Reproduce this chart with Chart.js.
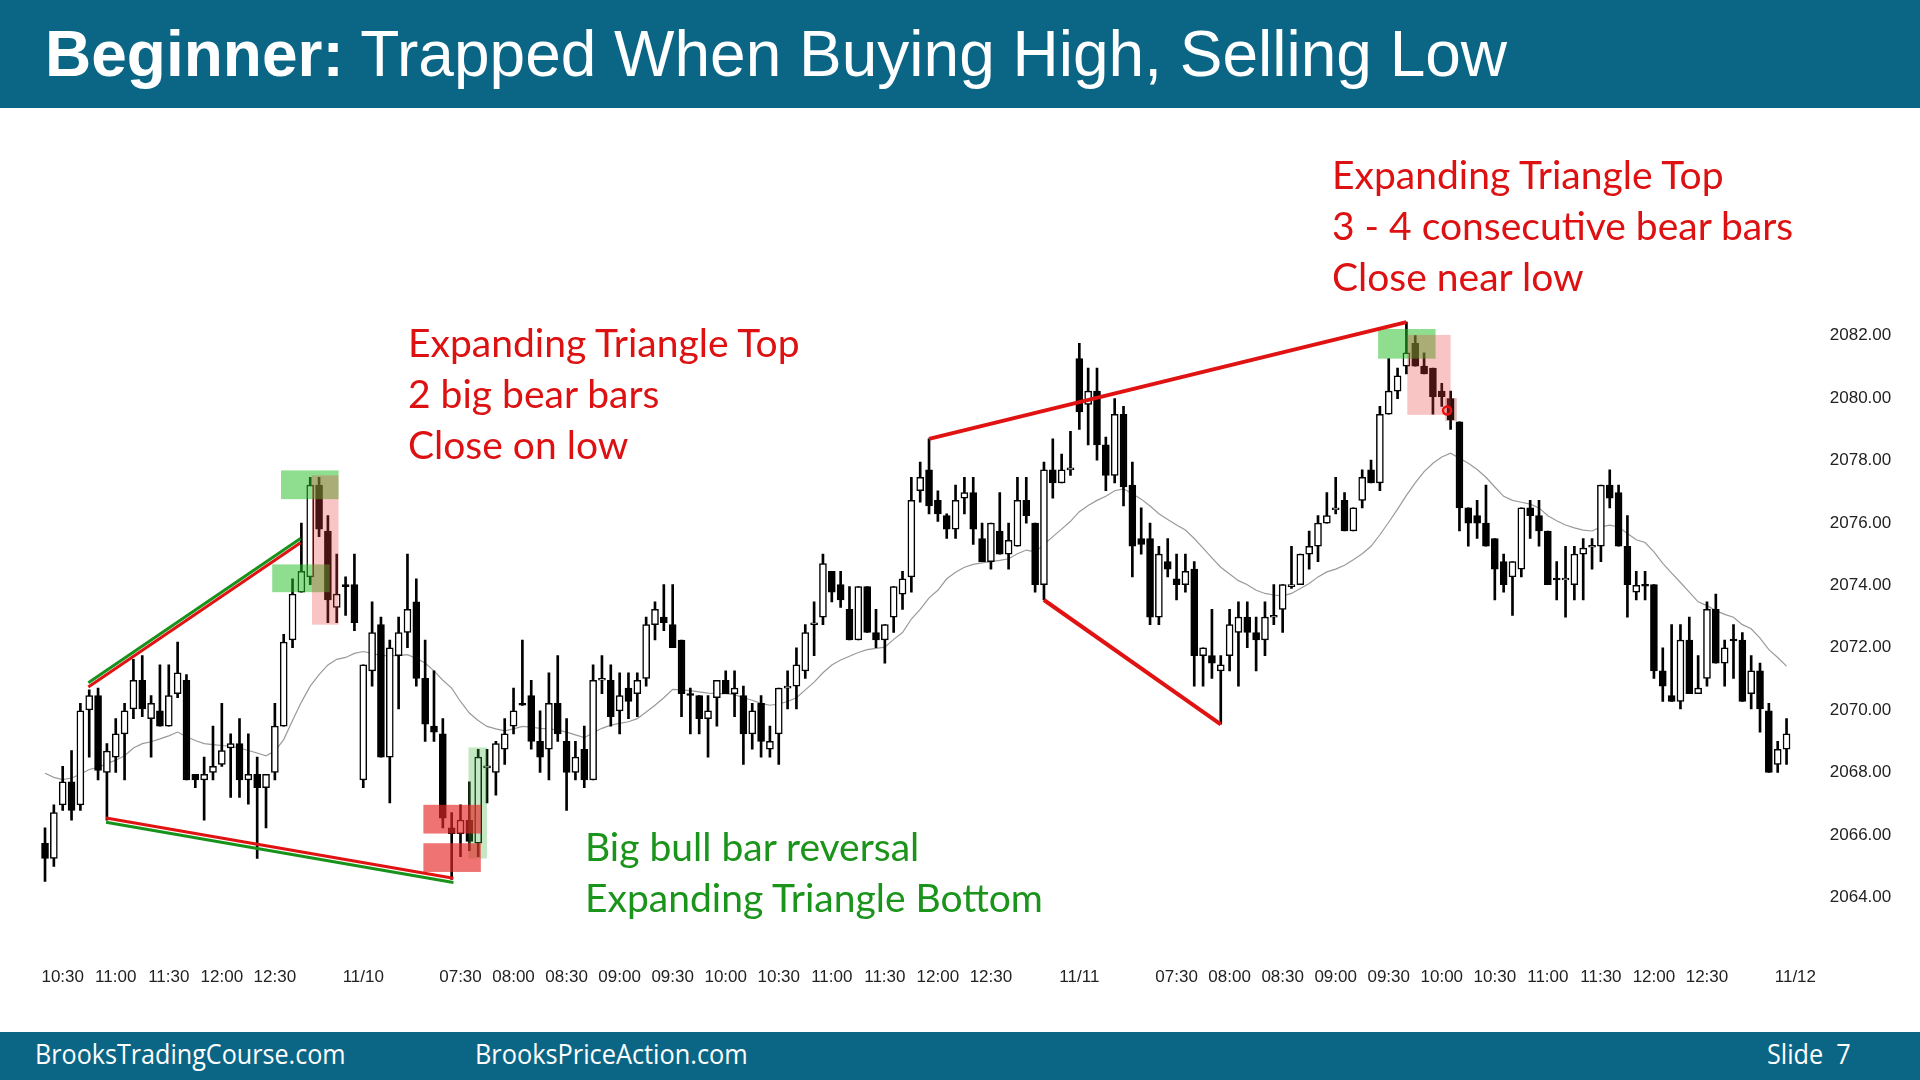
<!DOCTYPE html>
<html>
<head>
<meta charset="utf-8">
<title>Beginner: Trapped When Buying High, Selling Low</title>
<script src="https://cdn.jsdelivr.net/npm/chart.js@4.4.1/dist/chart.umd.min.js"></script>
<style>
    html, body { margin: 0; padding: 0; width: 1920px; height: 1080px; overflow: hidden; background: #fff; }
    #wrap { position: relative; width: 1920px; height: 1080px; }
    #chart { position: absolute; left: 0; top: 0; }
    .band { position: absolute; left: 0; width: 1920px; background: #0b6686; color: #fff; }
    #header { top: 0; height: 108px; font-family: 'Liberation Sans', Arial, sans-serif; font-size: 64px; line-height: 108px; }
    #header div { position: absolute; left: 45px; top: 0; white-space: nowrap; }
    #footer { top: 1032px; height: 48px; font-family: 'Open Sans', sans-serif; font-size: 27px; line-height: 44px; }
    #footer span { position: absolute; top: 0; white-space: nowrap; transform-origin: left center; display: inline-block; }
    .note { position: absolute; font-family: Lato, 'Open Sans', sans-serif; font-size: 39px; line-height: 51px; white-space: nowrap; }
    .red { color: #dd1111; }
    .green { color: #1b941b; }
</style>
</head>
<body>
<div id="wrap">
    <canvas id="chart" width="1920" height="1080"></canvas>
    <div id="header" class="band"><div><b>Beginner:</b> Trapped When Buying High, Selling Low</div></div>
    <div class="note red" style="left:408px; top:317px;">Expanding Triangle Top<br>2 big bear bars<br>Close on low</div>
    <div class="note red" style="left:1332px; top:149px;">Expanding Triangle Top<br>3 - 4 consecutive bear bars<br>Close near low</div>
    <div class="note green" style="left:585px; top:821px;">Big bull bar reversal<br>Expanding Triangle Bottom</div>
    <div id="footer" class="band">
        <span style="left:35px;" data-w="311">BrooksTradingCourse.com</span>
        <span style="left:475px;" data-w="273">BrooksPriceAction.com</span>
        <span style="left:1767px;" data-w="84">Slide&nbsp; 7</span>
    </div>
</div>
<script>
// Sessions: date, first bar time (minutes), number of 5 min bars
const sessions = [['11/9', 620, 36], ['11/10', 395, 81], ['11/11', 395, 81], ['11/12', 395, 1]];

const openPrices = [
    2065.74, 2065.25, 2066.97, 2067.71, 2066.97, 2070.01, 2070.47, 2068.01, 2068.50, 2069.24,
    2070.04, 2070.96, 2069.73, 2069.98, 2069.49, 2070.53, 2070.96, 2067.95, 2067.77, 2068.01,
    2068.26, 2068.79, 2068.93, 2067.77, 2067.95, 2067.52, 2068.01, 2069.49, 2072.25, 2073.78,
    2074.27, 2077.21, 2075.74, 2073.29, 2074.02, 2074.02, 2067.77, 2071.26, 2072.74, 2068.50,
    2071.75, 2072.49, 2073.47, 2071.02, 2069.49, 2069.24, 2066.23, 2066.05, 2066.48, 2065.74,
    2068.15, 2068.01, 2068.75, 2069.49, 2070.22, 2070.47, 2069.00, 2068.75, 2070.22, 2069.00,
    2068.01, 2068.75, 2067.77, 2070.96, 2070.96, 2069.98, 2070.71, 2070.53, 2071.02, 2072.74,
    2072.98, 2072.74, 2072.25, 2070.53, 2070.47, 2069.73, 2070.40, 2070.96, 2070.53, 2070.47,
    2069.24, 2070.22, 2068.75, 2069.24, 2070.71, 2070.77, 2071.26, 2072.74, 2072.98, 2074.45,
    2074.02, 2073.23, 2072.25, 2073.96, 2072.49, 2072.25, 2072.98, 2073.72, 2074.27, 2077.03,
    2077.70, 2076.72, 2076.23, 2075.80, 2076.79, 2076.97, 2075.50, 2074.76, 2075.74, 2075.00,
    2075.25, 2076.72, 2075.99, 2074.02, 2077.70, 2077.28, 2077.70, 2081.26, 2079.79, 2080.22,
    2078.50, 2077.52, 2079.48, 2077.21, 2075.50, 2075.50, 2072.98, 2074.76, 2074.21, 2074.02,
    2074.52, 2071.75, 2071.75, 2071.26, 2071.75, 2072.49, 2072.98, 2072.49, 2072.25, 2072.98,
    2073.23, 2073.96, 2074.02, 2075.00, 2075.25, 2075.99, 2076.42, 2076.72, 2075.74, 2076.72,
    2077.70, 2077.28, 2079.48, 2080.22, 2081.02, 2081.75, 2081.02, 2080.96, 2080.22, 2079.98,
    2079.24, 2076.48, 2076.23, 2075.99, 2075.50, 2074.76, 2074.27, 2074.52, 2076.48, 2076.23,
    2075.74, 2074.23, 2074.17, 2074.02, 2075.00, 2075.22, 2075.25, 2077.21, 2076.97, 2075.25,
    2073.78, 2074.03, 2074.02, 2071.26, 2070.47, 2070.28, 2072.25, 2070.53, 2071.02, 2073.23,
    2071.51, 2072.28, 2072.25, 2070.53, 2071.26, 2069.98, 2068.26, 2068.75
];
const highPrices = [
    2066.23, 2066.97, 2068.20, 2068.71, 2070.22, 2070.65, 2070.71, 2068.93, 2069.73, 2070.22,
    2071.63, 2071.75, 2070.47, 2071.45, 2071.45, 2072.18, 2071.14, 2067.95, 2068.50, 2069.49,
    2070.22, 2069.24, 2069.73, 2069.24, 2068.50, 2067.95, 2070.22, 2072.43, 2074.21, 2075.99,
    2077.46, 2077.46, 2076.23, 2075.00, 2074.27, 2075.00, 2071.45, 2073.47, 2072.98, 2072.25,
    2072.98, 2075.00, 2074.21, 2072.25, 2071.26, 2069.73, 2066.72, 2066.97, 2067.71, 2068.75,
    2068.75, 2069.00, 2069.73, 2070.71, 2072.25, 2070.96, 2069.98, 2071.20, 2071.75, 2069.73,
    2069.00, 2069.49, 2071.45, 2071.75, 2071.45, 2071.20, 2071.20, 2071.20, 2072.98, 2073.47,
    2074.02, 2074.02, 2072.25, 2070.71, 2070.47, 2070.47, 2070.96, 2071.26, 2071.26, 2070.77,
    2070.22, 2070.47, 2069.49, 2070.71, 2071.26, 2072.00, 2072.74, 2073.47, 2075.00, 2074.45,
    2074.45, 2073.96, 2073.96, 2073.96, 2073.23, 2072.74, 2073.96, 2074.45, 2077.46, 2077.95,
    2078.69, 2077.03, 2076.29, 2077.21, 2077.46, 2077.46, 2075.99, 2075.99, 2076.97, 2075.99,
    2077.46, 2077.46, 2075.99, 2077.95, 2078.69, 2078.20, 2078.93, 2081.75, 2080.96, 2080.96,
    2078.75, 2079.98, 2079.73, 2077.95, 2076.48, 2075.99, 2075.25, 2075.50, 2075.00, 2075.00,
    2074.76, 2072.00, 2073.23, 2071.75, 2073.23, 2073.47, 2073.47, 2072.98, 2073.47, 2074.02,
    2074.02, 2075.25, 2075.00, 2075.74, 2076.23, 2076.97, 2077.46, 2076.97, 2076.48, 2077.70,
    2078.01, 2079.73, 2081.26, 2080.96, 2082.43, 2082.00, 2081.45, 2080.96, 2080.47, 2080.22,
    2079.24, 2076.48, 2076.72, 2077.21, 2075.50, 2075.00, 2074.76, 2076.48, 2076.72, 2076.72,
    2075.74, 2074.76, 2075.25, 2075.25, 2075.50, 2075.50, 2077.21, 2077.70, 2077.21, 2076.23,
    2074.45, 2074.45, 2074.02, 2072.00, 2072.74, 2072.74, 2072.98, 2071.75, 2073.47, 2073.72,
    2072.25, 2072.74, 2072.49, 2071.75, 2071.51, 2070.22, 2069.00, 2069.73
];
const lowPrices = [
    2064.52, 2065.00, 2066.79, 2066.48, 2066.79, 2068.50, 2067.77, 2066.48, 2068.01, 2067.77,
    2069.73, 2069.79, 2068.50, 2069.49, 2069.49, 2070.40, 2067.77, 2067.52, 2066.48, 2067.77,
    2068.20, 2067.21, 2067.21, 2066.99, 2065.25, 2066.23, 2067.77, 2069.49, 2072.00, 2073.78,
    2074.02, 2075.56, 2072.80, 2072.80, 2073.04, 2072.55, 2067.52, 2070.77, 2068.50, 2067.03,
    2070.04, 2072.00, 2070.77, 2069.00, 2069.00, 2066.23, 2064.58, 2065.31, 2065.50, 2065.31,
    2067.03, 2067.28, 2068.26, 2069.24, 2070.15, 2068.75, 2068.01, 2067.77, 2069.00, 2066.79,
    2067.77, 2067.52, 2067.77, 2070.53, 2069.49, 2069.24, 2069.73, 2069.79, 2070.77, 2072.25,
    2072.55, 2072.00, 2069.79, 2069.24, 2069.24, 2068.50, 2069.49, 2070.53, 2069.79, 2068.26,
    2068.75, 2068.50, 2068.50, 2068.26, 2070.04, 2070.04, 2071.02, 2071.75, 2072.74, 2073.47,
    2073.29, 2072.25, 2072.25, 2072.49, 2072.00, 2071.51, 2072.49, 2073.23, 2073.78, 2076.66,
    2076.29, 2076.05, 2075.50, 2075.50, 2076.29, 2075.31, 2074.76, 2074.52, 2075.00, 2074.52,
    2075.25, 2075.99, 2073.78, 2073.53, 2076.79, 2077.28, 2077.52, 2078.99, 2078.50, 2078.01,
    2077.03, 2077.28, 2076.54, 2074.27, 2075.00, 2072.74, 2072.74, 2074.27, 2073.53, 2073.78,
    2070.77, 2070.77, 2071.02, 2069.55, 2071.26, 2070.77, 2072.00, 2071.26, 2071.75, 2072.74,
    2072.49, 2073.90, 2074.02, 2074.52, 2074.76, 2075.99, 2076.29, 2075.74, 2075.74, 2076.48,
    2077.28, 2077.03, 2079.48, 2079.98, 2080.77, 2081.02, 2080.77, 2079.48, 2079.73, 2078.99,
    2075.74, 2075.25, 2075.50, 2075.25, 2073.53, 2073.78, 2073.04, 2074.27, 2075.50, 2075.25,
    2074.02, 2073.53, 2072.98, 2073.53, 2073.53, 2074.52, 2074.76, 2076.48, 2075.25, 2072.98,
    2073.53, 2073.53, 2071.02, 2070.28, 2070.28, 2070.04, 2070.53, 2070.53, 2070.77, 2071.51,
    2070.77, 2071.02, 2070.28, 2070.04, 2069.30, 2068.01, 2068.01, 2068.26
];
const closePrices = [
    2065.25, 2066.72, 2067.71, 2066.79, 2069.98, 2070.47, 2068.07, 2068.69, 2069.24, 2069.98,
    2070.96, 2070.04, 2070.22, 2069.49, 2070.47, 2071.20, 2067.77, 2067.77, 2067.95, 2068.20,
    2068.71, 2068.93, 2067.77, 2067.95, 2067.52, 2067.95, 2069.49, 2072.18, 2073.72, 2074.45,
    2077.21, 2075.80, 2073.53, 2073.72, 2073.96, 2072.80, 2071.45, 2072.49, 2068.50, 2072.00,
    2072.49, 2073.23, 2071.02, 2069.55, 2069.30, 2066.54, 2066.05, 2066.48, 2065.80, 2068.50,
    2068.22, 2068.93, 2069.24, 2069.98, 2070.16, 2069.00, 2068.50, 2070.22, 2069.24, 2068.01,
    2068.50, 2067.77, 2070.96, 2071.02, 2069.79, 2070.47, 2070.28, 2070.96, 2072.74, 2073.23,
    2072.80, 2072.00, 2070.53, 2070.47, 2069.73, 2069.98, 2070.96, 2070.53, 2070.71, 2069.24,
    2069.98, 2069.00, 2069.00, 2070.71, 2070.77, 2071.45, 2072.49, 2072.80, 2074.70, 2073.78,
    2073.53, 2072.25, 2073.96, 2072.49, 2072.25, 2072.74, 2073.96, 2074.21, 2076.72, 2077.46,
    2076.54, 2076.29, 2075.80, 2076.72, 2076.97, 2075.80, 2074.76, 2075.99, 2075.00, 2075.44,
    2076.72, 2076.23, 2074.02, 2077.70, 2077.28, 2077.70, 2077.76, 2079.55, 2080.22, 2078.50,
    2077.52, 2079.48, 2077.15, 2075.25, 2075.31, 2072.98, 2075.00, 2074.52, 2074.02, 2074.45,
    2071.75, 2072.00, 2071.51, 2071.45, 2072.74, 2072.98, 2072.49, 2072.25, 2072.98, 2073.04,
    2074.02, 2074.02, 2075.00, 2075.25, 2075.99, 2076.23, 2076.48, 2075.74, 2076.48, 2077.46,
    2077.28, 2079.48, 2080.22, 2080.71, 2081.45, 2081.02, 2080.77, 2080.04, 2080.04, 2079.30,
    2076.48, 2075.99, 2075.99, 2075.25, 2074.52, 2074.02, 2074.76, 2076.48, 2076.23, 2075.74,
    2074.02, 2074.17, 2074.23, 2075.00, 2075.19, 2075.28, 2077.21, 2076.79, 2075.25, 2074.02,
    2074.00, 2073.97, 2071.26, 2070.77, 2070.28, 2072.25, 2070.53, 2070.71, 2073.23, 2071.51,
    2072.00, 2072.22, 2070.28, 2071.26, 2070.04, 2068.01, 2068.75, 2069.24
];
// 20 bar moving average
const emaValues = [
    2067.98, 2067.85, 2067.78, 2067.83, 2067.95, 2068.10, 2068.17, 2068.29, 2068.40, 2068.54,
    2068.79, 2068.93, 2068.99, 2069.08, 2069.18, 2069.30, 2069.15, 2069.03, 2068.93, 2068.90,
    2068.87, 2068.85, 2068.79, 2068.71, 2068.63, 2068.54, 2068.69, 2069.06, 2069.67, 2070.26,
    2070.77, 2071.14, 2071.45, 2071.63, 2071.69, 2071.82, 2071.88, 2071.82, 2071.75, 2071.75,
    2071.75, 2071.78, 2071.66, 2071.51, 2071.26, 2070.96, 2070.71, 2070.28, 2069.91, 2069.67,
    2069.48, 2069.40, 2069.34, 2069.40, 2069.48, 2069.46, 2069.42, 2069.40, 2069.36, 2069.30,
    2069.21, 2069.12, 2069.28, 2069.42, 2069.52, 2069.58, 2069.63, 2069.73, 2069.94, 2070.16,
    2070.40, 2070.67, 2070.65, 2070.63, 2070.59, 2070.55, 2070.53, 2070.53, 2070.50, 2070.40,
    2070.32, 2070.22, 2070.16, 2070.20, 2070.28, 2070.40, 2070.65, 2070.90, 2071.20, 2071.45,
    2071.61, 2071.73, 2071.85, 2071.94, 2071.98, 2072.02, 2072.27, 2072.49, 2072.92, 2073.23,
    2073.60, 2073.84, 2074.21, 2074.42, 2074.58, 2074.67, 2074.72, 2074.76, 2074.80, 2074.85,
    2075.01, 2075.13, 2075.07, 2075.31, 2075.56, 2075.80, 2076.05, 2076.36, 2076.56, 2076.72,
    2076.85, 2077.03, 2077.09, 2076.93, 2076.76, 2076.54, 2076.29, 2076.11, 2075.93, 2075.77,
    2075.50, 2075.19, 2074.88, 2074.58, 2074.36, 2074.15, 2074.02, 2073.84, 2073.74, 2073.69,
    2073.66, 2073.74, 2073.90, 2074.06, 2074.27, 2074.43, 2074.52, 2074.64, 2074.82, 2075.01,
    2075.25, 2075.62, 2076.02, 2076.44, 2076.88, 2077.28, 2077.64, 2077.91, 2078.11, 2078.23,
    2078.07, 2077.91, 2077.71, 2077.46, 2077.15, 2076.85, 2076.72, 2076.66, 2076.60, 2076.48,
    2076.23, 2076.07, 2075.93, 2075.84, 2075.77, 2075.74, 2075.87, 2075.93, 2075.87, 2075.66,
    2075.46, 2075.37, 2075.07, 2074.70, 2074.39, 2074.09, 2073.78, 2073.47, 2073.35, 2073.19,
    2073.07, 2072.98, 2072.74, 2072.61, 2072.31, 2071.94, 2071.69, 2071.41
];

const tickBars = [2, 8, 14, 20, 26, 36, 47, 53, 59, 65, 71, 77, 83, 89, 95, 101, 107,
    117, 128, 134, 140, 146, 152, 158, 164, 170, 176, 182, 188, 198];
const tickTexts = ['10:30', '11:00', '11:30', '12:00', '12:30', '11/10',
    '07:30', '08:00', '08:30', '09:00', '09:30', '10:00', '10:30', '11:00', '11:30', '12:00', '12:30', '11/11',
    '07:30', '08:00', '08:30', '09:00', '09:30', '10:00', '10:30', '11:00', '11:30', '12:00', '12:30', '11/12'];
const priceTicks = [2064, 2066, 2068, 2070, 2072, 2074, 2076, 2078, 2080, 2082];

// Drawings on top of the bars: [bar from, price from, bar to, price to, colour, width]
const trendLines = [
    [4.9, 2070.88, 28.9, 2075.50, '#17921a', 3],
    [4.9, 2070.74, 28.9, 2075.36, '#e01212', 3],
    [6.9, 2066.55, 46.2, 2064.62, '#e01212', 3],
    [6.9, 2066.41, 46.2, 2064.48, '#17921a', 3],
    [100, 2078.69, 154, 2082.43, '#e01212', 4],
    [113, 2073.53, 133, 2069.55, '#e01212', 4]
];
// Shaded boxes: [bar left, bar right, price top, price bottom, colour]
const boxes = [
    [26.7, 33.2, 2077.68, 2076.76, 'rgba(40,190,40,0.52)'],
    [25.7, 32.2, 2074.67, 2073.78, 'rgba(40,190,40,0.52)'],
    [47.9, 50.0, 2068.81, 2065.25, 'rgba(60,180,60,0.3)'],
    [150.8, 157.3, 2082.21, 2081.26, 'rgba(40,190,40,0.52)'],
    [30.2, 33.2, 2077.52, 2072.74, 'rgba(235,60,60,0.3)'],
    [42.8, 49.3, 2066.97, 2066.05, 'rgba(232,40,40,0.65)'],
    [42.8, 49.3, 2065.74, 2064.82, 'rgba(232,40,40,0.65)'],
    [154.1, 159.0, 2082.02, 2079.46, 'rgba(235,60,60,0.3)'],
    [158.4, 159.7, 2080.00, 2079.26, 'rgba(150,40,40,0.3)']
];
const marker = [158.6, 2079.6];

// Build category labels from the sessions
const barLabels = [];
sessions.forEach(function(s) {
    for (let i = 0; i < s[2]; i++) {
        const t = s[1] + i * 5;
        const hh = String(Math.floor(t / 60)).padStart(2, '0');
        const mm = String(t % 60).padStart(2, '0');
        barLabels.push(s[0] + ' ' + hh + ':' + mm);
    }
});

const wickData = lowPrices.map((l, i) => [l, highPrices[i]]);
const bodyData = openPrices.map((o, i) => [o, closePrices[i]]);

const drawingsPlugin = {
    id: 'drawings',
    afterDatasetsDraw(chart) {
        const ctx = chart.ctx;
        const xs = chart.scales.x;
        const ys = chart.scales.y;
        ctx.save();
        boxes.forEach(function(b) {
            const x1 = xs.getPixelForValue(b[0]);
            const x2 = xs.getPixelForValue(b[1]);
            const y1 = ys.getPixelForValue(b[2]);
            const y2 = ys.getPixelForValue(b[3]);
            ctx.fillStyle = b[4];
            ctx.fillRect(x1, y1, x2 - x1, y2 - y1);
        });
        ctx.lineCap = 'butt';
        trendLines.forEach(function(l) {
            ctx.beginPath();
            ctx.moveTo(xs.getPixelForValue(l[0]), ys.getPixelForValue(l[1]));
            ctx.lineTo(xs.getPixelForValue(l[2]), ys.getPixelForValue(l[3]));
            ctx.strokeStyle = l[4];
            ctx.lineWidth = l[5];
            ctx.stroke();
        });
        ctx.beginPath();
        ctx.arc(xs.getPixelForValue(marker[0]), ys.getPixelForValue(marker[1]), 4, 0, Math.PI * 2);
        ctx.strokeStyle = '#ee1111';
        ctx.lineWidth = 2.5;
        ctx.stroke();
        ctx.restore();
    }
};

Chart.defaults.font.family = "'Liberation Sans', Arial, sans-serif";
Chart.defaults.color = '#222';

new Chart(document.getElementById('chart'), {
    type: 'bar',
    data: {
        labels: barLabels,
        datasets: [{
            label: 'Body',
            data: bodyData,
            grouped: false,
            barThickness: 7,
            borderWidth: 1.5,
            borderSkipped: false,
            borderColor: '#000',
            backgroundColor: ctx => {
                const i = ctx.dataIndex;
                return closePrices[i] >= openPrices[i] ? '#fff' : '#000';
            },
            order: 0
        }, {
            label: 'Wick',
            data: wickData,
            grouped: false,
            barThickness: 2,
            borderWidth: 0,
            backgroundColor: '#000',
            order: 1
        }, {
            type: 'line',
            label: 'MA',
            data: emaValues,
            borderColor: '#9a9a9a',
            borderWidth: 1.2,
            pointRadius: 0,
            tension: 0,
            order: 2
        }]
    },
    options: {
        responsive: false,
        devicePixelRatio: 1,
        animation: false,
        layout: { padding: { left: 40.6, top: 148.2, right: 0, bottom: 0 } },
        plugins: {
            legend: { display: false },
            tooltip: { enabled: false }
        },
        scales: {
            x: {
                offset: true,
                grid: { display: false },
                border: { display: false },
                afterBuildTicks: scale => {
                    scale.ticks = tickBars.map(v => ({ value: v }));
                },
                afterFit: scale => { scale.height = 120; },
                ticks: {
                    autoSkip: false,
                    maxRotation: 0,
                    minRotation: 0,
                    padding: -1,
                    font: { size: 17 },
                    callback: value => tickTexts[tickBars.indexOf(value)]
                }
            },
            y: {
                position: 'right',
                min: 2062,
                max: 2088,
                grid: { display: false },
                border: { display: false },
                afterBuildTicks: scale => {
                    scale.ticks = priceTicks.map(v => ({ value: v }));
                },
                afterFit: scale => { scale.width = 120.2; },
                ticks: {
                    padding: 22,
                    font: { size: 17 },
                    callback: value => value.toFixed(2)
                }
            }
        }
    },
    plugins: [drawingsPlugin]
});

// Footer font is a condensed face: squeeze each item to its width
document.querySelectorAll('#footer span').forEach(function(el) {
    const target = parseFloat(el.dataset.w);
    el.style.transform = 'scaleX(' + (target / el.offsetWidth) + ')';
});
</script>
</body>
</html>
